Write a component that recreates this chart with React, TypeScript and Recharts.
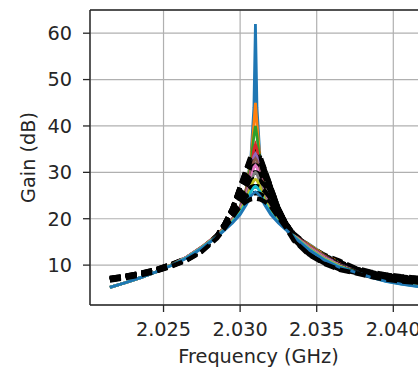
import { LineChart, Line, XAxis, YAxis, CartesianGrid, ReferenceLine } from 'recharts';

// frequency points (GHz), denser around the 2.031 GHz resonance
const freqs = [
  2.0215, 2.0225, 2.0235, 2.0245, 2.0255, 2.0265, 2.0275, 2.0285, 2.029, 2.0295, 2.03,
  2.0304, 2.0307, 2.0309, 2.031, 2.0311, 2.0313, 2.0316, 2.032, 2.0325, 2.033, 2.0335,
  2.0345, 2.0355, 2.0365, 2.0375, 2.0385, 2.0395, 2.0405, 2.0415, 2.042,
];

// measured gain traces (dB)
const gain62 = [5.2, 6.2, 7.3, 8.5, 10.0, 11.7, 13.9, 16.5, 18.2, 20.0, 22.5, 26.5, 33.0, 44.0, 62, 44.0, 33.0, 26.5, 22.5, 20.0, 18.2, 16.5, 14.5, 12.3, 10.7, 9.1, 8.0, 7.1, 6.5, 6.0, 5.8];
const gain45 = [5.2, 6.2, 7.3, 8.5, 10.0, 11.7, 13.9, 16.5, 18.2, 20.0, 22.4, 26.4, 32.5, 40.5, 45, 40.5, 32.5, 26.4, 22.4, 20.0, 18.2, 16.5, 14.4, 12.2, 10.6, 9.05, 7.95, 7.05, 6.45, 5.95, 5.75];
const gain40 = [5.2, 6.2, 7.3, 8.5, 10.0, 11.7, 13.9, 16.5, 18.1, 19.9, 22.4, 26.2, 31.8, 37.8, 40, 37.8, 31.8, 26.2, 22.4, 19.9, 18.1, 16.5, 14.25, 12.05, 10.45, 9.0, 7.9, 7.0, 6.4, 5.9, 5.7];
const gain36 = [5.2, 6.2, 7.3, 8.5, 10.0, 11.7, 13.9, 16.5, 18.1, 19.9, 22.3, 25.9, 30.6, 35.0, 36, 35.0, 30.6, 25.9, 22.3, 19.9, 18.1, 16.5, 14.15, 11.95, 10.35, 8.9, 7.8, 6.9, 6.3, 5.8, 5.6];
const gain34 = [5.2, 6.2, 7.3, 8.5, 10.0, 11.7, 13.85, 16.4, 18.0, 19.8, 22.2, 25.6, 29.9, 33.4, 34, 33.4, 29.9, 25.6, 22.2, 19.8, 18.0, 16.4, 14.0, 11.8, 10.2, 8.85, 7.75, 6.85, 6.25, 5.75, 5.55];
const gain33 = [5.2, 6.2, 7.3, 8.5, 10.0, 11.7, 13.8, 16.4, 18.0, 19.8, 22.1, 25.4, 29.4, 32.5, 33, 32.5, 29.4, 25.4, 22.1, 19.8, 18.0, 16.4, 13.9, 11.7, 10.1, 8.8, 7.7, 6.8, 6.2, 5.7, 5.5];
const gain31 = [5.2, 6.2, 7.3, 8.5, 10.0, 11.7, 13.8, 16.4, 17.9, 19.7, 21.9, 25.0, 28.6, 31.1, 31.5, 31.1, 28.6, 25.0, 21.9, 19.7, 17.9, 16.4, 13.8, 11.6, 10.0, 8.75, 7.65, 6.75, 6.15, 5.65, 5.45];
const gain30 = [5.2, 6.2, 7.3, 8.5, 10.0, 11.6, 13.8, 16.3, 17.9, 19.6, 21.7, 24.6, 27.8, 29.7, 30, 29.7, 27.8, 24.6, 21.7, 19.6, 17.9, 16.3, 13.65, 11.45, 9.85, 8.7, 7.6, 6.7, 6.1, 5.6, 5.4];
const gain28 = [5.2, 6.2, 7.3, 8.5, 10.0, 11.6, 13.7, 16.3, 17.8, 19.5, 21.5, 24.1, 26.9, 28.3, 28.5, 28.3, 26.9, 24.1, 21.5, 19.5, 17.8, 16.3, 13.55, 11.35, 9.75, 8.6, 7.5, 6.6, 6.0, 5.5, 5.3];
const gain27 = [5.2, 6.2, 7.3, 8.5, 9.9, 11.6, 13.7, 16.2, 17.7, 19.3, 21.2, 23.5, 25.8, 26.8, 27, 26.8, 25.8, 23.5, 21.2, 19.3, 17.7, 16.2, 13.4, 11.2, 9.6, 8.55, 7.45, 6.55, 5.95, 5.45, 5.25];
const gain26 = [5.2, 6.2, 7.3, 8.5, 9.9, 11.5, 13.6, 16.1, 17.6, 19.1, 20.9, 23.0, 24.9, 25.6, 25.8, 25.6, 24.9, 23.0, 20.9, 19.1, 17.6, 16.1, 13.3, 11.1, 9.5, 8.5, 7.4, 6.5, 5.9, 5.4, 5.2];

// fitted curves (dB), one per trace, drawn dashed
const fit35 = [7.2, 7.7, 8.3, 9.1, 10.2, 11.5, 13.4, 16.4, 19.0, 22.3, 27.0, 30.8, 33.6, 34.8, 35, 34.8, 33.6, 30.8, 27.0, 22.3, 19.0, 16.8, 14.1, 12.2, 10.9, 9.4, 8.6, 8.0, 7.6, 7.3, 7.2];
const fit34b = [7.2, 7.7, 8.3, 9.1, 10.2, 11.5, 13.3, 16.4, 19.0, 22.3, 26.9, 30.6, 33.2, 34.3, 34.5, 34.3, 33.2, 30.6, 26.9, 22.3, 19.0, 16.7, 13.9, 12.0, 10.7, 9.3, 8.5, 7.9, 7.5, 7.2, 7.1];
const fit34 = [7.1, 7.6, 8.2, 9.0, 10.1, 11.4, 13.3, 16.4, 19.0, 22.2, 26.8, 30.4, 32.9, 33.8, 34, 33.8, 32.9, 30.4, 26.8, 22.2, 19.0, 16.6, 13.7, 11.8, 10.5, 9.2, 8.4, 7.8, 7.4, 7.1, 7.0];
const fit33b = [7.1, 7.6, 8.2, 9.0, 10.1, 11.4, 13.2, 16.4, 18.9, 22.2, 26.7, 30.2, 32.5, 33.4, 33.5, 33.4, 32.5, 30.2, 26.7, 22.2, 18.9, 16.5, 13.5, 11.6, 10.3, 9.1, 8.3, 7.7, 7.3, 7.0, 6.9];
const fit32 = [7.0, 7.5, 8.1, 8.9, 10.0, 11.3, 13.2, 16.35, 18.9, 22.1, 26.5, 29.7, 31.7, 32.4, 32.5, 32.4, 31.7, 29.7, 26.5, 22.1, 18.9, 16.4, 13.3, 11.4, 10.1, 9.0, 8.2, 7.6, 7.2, 6.9, 6.8];
const fit31 = [7.0, 7.5, 8.1, 8.9, 10.0, 11.3, 13.2, 16.3, 18.9, 22.0, 26.2, 29.1, 30.8, 31.4, 31.5, 31.4, 30.8, 29.1, 26.2, 22.0, 18.9, 16.3, 13.1, 11.2, 9.9, 8.8, 8.0, 7.4, 7.0, 6.7, 6.6];
const fit30 = [6.9, 7.4, 8.0, 8.8, 9.9, 11.2, 13.1, 16.3, 18.8, 21.8, 25.7, 28.2, 29.5, 29.9, 30, 29.9, 29.5, 28.2, 25.7, 21.8, 18.8, 16.1, 12.9, 11.0, 9.7, 8.7, 7.9, 7.3, 6.9, 6.6, 6.5];
const fit28 = [6.9, 7.4, 8.0, 8.8, 9.9, 11.2, 13.1, 16.2, 18.6, 21.6, 25.1, 27.2, 28.2, 28.5, 28.5, 28.5, 28.2, 27.2, 25.1, 21.6, 18.6, 15.9, 12.7, 10.8, 9.5, 8.6, 7.8, 7.2, 6.8, 6.5, 6.4];
const fit27 = [6.8, 7.3, 7.9, 8.7, 9.8, 11.1, 13.0, 16.1, 18.5, 21.2, 24.4, 26.0, 26.8, 27.0, 27, 27.0, 26.8, 26.0, 24.4, 21.2, 18.5, 15.8, 12.5, 10.6, 9.3, 8.5, 7.7, 7.1, 6.7, 6.4, 6.3];
const fit25 = [6.8, 7.3, 7.9, 8.7, 9.8, 11.1, 13.0, 16.0, 18.2, 20.8, 23.5, 24.8, 25.3, 25.5, 25.5, 25.5, 25.3, 24.8, 23.5, 20.8, 18.2, 15.5, 12.3, 10.4, 9.1, 8.4, 7.6, 7.0, 6.6, 6.3, 6.2];
const fit24 = [6.7, 7.2, 7.8, 8.6, 9.7, 11.0, 12.9, 15.8, 18.0, 20.3, 22.7, 23.7, 24.2, 24.3, 24.3, 24.3, 24.2, 23.7, 22.7, 20.3, 18.0, 15.3, 12.2, 10.3, 9.0, 8.3, 7.5, 6.9, 6.5, 6.2, 6.1];

const measured = [gain62, gain45, gain40, gain36, gain34, gain33, gain31, gain30, gain28, gain27, gain26];
const fits = [fit35, fit34b, fit34, fit33b, fit32, fit31, fit30, fit28, fit27, fit25, fit24];

const xTicks = [2.025, 2.03, 2.035, 2.04];
const yTicks = [10, 20, 30, 40, 50, 60];

const tab10 = ['#1f77b4', '#ff7f0e', '#2ca02c', '#d62728', '#9467bd', '#8c564b', '#e377c2', '#7f7f7f', '#bcbd22', '#17becf'];

const data = freqs.map((f, i) => {
  const row: Record<string, number> = { f };
  measured.forEach((s, k) => (row[`m${k}`] = s[i]));
  fits.forEach((s, k) => (row[`d${k}`] = s[i]));
  return row;
});

const ink = '#262626';
const fontSize = 19.3;

export default function App() {
  // each trace is followed by its fit, like the original plotting loop
  const series = measured.flatMap((_, k) => [
    <Line
      key={`m${k}`}
      dataKey={`m${k}`}
      type="linear"
      stroke={tab10[k % 10]}
      strokeWidth={2.8}
      dot={false}
      isAnimationActive={false}
    />,
    <Line
      key={`d${k}`}
      dataKey={`d${k}`}
      type="linear"
      stroke="#000"
      strokeWidth={4.5}
      strokeDasharray="11 5"
      dot={false}
      isAnimationActive={false}
    />,
  ]);

  return (
    <div
      style={{
        position: 'absolute',
        left: 0,
        top: 0,
        width: 418,
        height: 368,
        overflow: 'hidden',
        background: '#fff',
        fontFamily: "'DejaVu Sans', sans-serif",
      }}
    >
      <LineChart width={440} height={368} data={data} margin={{ top: 10, right: 13, bottom: 3, left: 0 }}>
        <CartesianGrid stroke="#b0b0b0" strokeWidth={1.2} />
        <XAxis
          dataKey="f"
          type="number"
          domain={[2.0202, 2.0422]}
          allowDataOverflow
          ticks={xTicks}
          tickFormatter={(v: number) => v.toFixed(3)}
          height={60}
          tickSize={7}
          tickMargin={10}
          axisLine={{ stroke: ink, strokeWidth: 1.4 }}
          tickLine={{ stroke: ink, strokeWidth: 1.3 }}
          tick={{ fontSize, fill: ink }}
          label={{ value: 'Frequency (GHz)', position: 'insideBottom', offset: 2, fill: ink, fontSize }}
        />
        <YAxis
          type="number"
          domain={[1.4, 65]}
          allowDataOverflow
          ticks={yTicks}
          width={90}
          tickSize={7}
          tickMargin={11}
          axisLine={{ stroke: ink, strokeWidth: 1.4 }}
          tickLine={{ stroke: ink, strokeWidth: 1.3 }}
          tick={{ fontSize, fill: ink }}
          label={{
            value: 'Gain (dB)',
            angle: -90,
            position: 'insideLeft',
            offset: 28,
            fill: ink,
            fontSize,
            style: { textAnchor: 'middle' },
          }}
        />
        <ReferenceLine y={65} stroke={ink} strokeWidth={1.4} />
        {series}
      </LineChart>
    </div>
  );
}
